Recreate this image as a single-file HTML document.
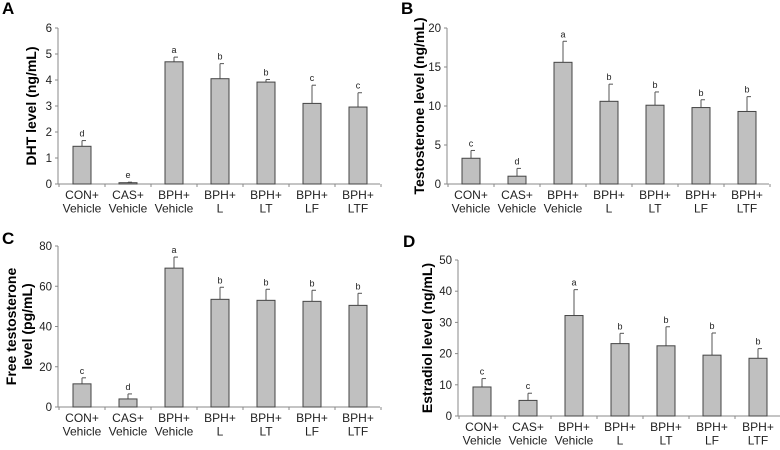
<!DOCTYPE html>
<html><head><meta charset="utf-8"><style>
body{margin:0;background:#fff;font-family:"Liberation Sans",Arial,sans-serif}
svg text{font-family:"Liberation Sans",Arial,sans-serif}
</style></head><body>
<svg id="c" width="780" height="445"></svg>
<script>
const categories=[["CON+","Vehicle"],["CAS+","Vehicle"],["BPH+","Vehicle"],["BPH+","L"],["BPH+","LT"],["BPH+","LF"],["BPH+","LTF"]];
const dhtValues=[1.45,0.05,4.7,4.05,3.92,3.1,2.96];
const dhtErrors=[0.22,0.02,0.18,0.58,0.1,0.7,0.55];
const dhtLetters=["d","e","a","b","b","c","c"];
const testoValues=[3.3,1.0,15.6,10.6,10.1,9.8,9.3];
const testoErrors=[1.0,1.0,2.7,2.2,1.7,1.0,1.9];
const testoLetters=["c","d","a","b","b","b","b"];
const freeValues=[11.5,4.0,69,53.5,53,52.5,50.5];
const freeErrors=[3.0,2.5,5.5,6.0,5.5,5.5,6.0];
const freeLetters=["c","d","a","b","b","b","b"];
const e2Values=[9.3,5.0,32.2,23.2,22.5,19.5,18.5];
const e2Errors=[2.7,2.3,8.3,3.3,6.1,7.1,3.1];
const e2Letters=["c","c","a","b","b","b","b"];
const dhtTicks=[0,1,2,3,4,5,6];
const testoTicks=[0,5,10,15,20];
const freeTicks=[0,20,40,60,80];
const e2Ticks=[0,10,20,30,40,50];
const NS="http://www.w3.org/2000/svg";
const svg=document.getElementById('c');
function mk(t,a,p){const e=document.createElementNS(NS,t);for(const k in a)e.setAttribute(k,a[k]);(p||svg).appendChild(e);return e;}
function panel(o){
  const g=mk('g',{});
  
  
  const ymax=o.ticks[o.ticks.length-1];
  const ys=v=>o.y0-(v/ymax)*(o.y0-o.ytop);
  const xs=i=>o.x0+24+i*46;
  const lt=mk('text',{x:o.lx,y:o.ly,'font-size':17,'font-weight':'bold'},g);lt.textContent=o.letter;
  
  
  const ax=mk('line',{x1:o.x0,y1:o.ytop,x2:o.x0,y2:o.y0,stroke:'#888'},g);
  
  
  const bx=mk('line',{x1:o.x0,y1:o.y0,x2:o.x0+322,y2:o.y0,stroke:'#888'},g);
  
  
  o.ticks.forEach(t=>{
    mk('line',{x1:o.x0-3,x2:o.x0,y1:ys(t),y2:ys(t),stroke:'#888'},g);
    const tx=mk('text',{x:o.x0-6,y:ys(t)+4,'font-size':11.5,'text-anchor':'end',fill:'#222'},g);tx.textContent=t;
    
    
  });
  for(let i=0;i<=7;i++)mk('line',{x1:o.x0+1+i*46,x2:o.x0+1+i*46,y1:o.y0,y2:o.y0+3,stroke:'#888'},g);
  categories.forEach((c,i)=>{
    const cx=xs(i),v=o.values[i],e=o.errors[i];
    const ytop=ys(v+e);
    mk('line',{x1:cx,x2:cx,y1:ys(v),y2:ytop,stroke:'#555'},g);
    mk('line',{x1:cx,x2:cx+4,y1:ytop,y2:ytop,stroke:'#555'},g);
    const r=mk('rect',{x:cx-9,y:ys(v),width:18,height:o.y0-ys(v),fill:'#c0c0c0',stroke:'#444','stroke-width':1},g);
    
    
    const l=mk('text',{x:cx,y:ytop-4,'font-size':9,'text-anchor':'middle',fill:'#222'},g);l.textContent=o.letters[i];
    
    
    c.forEach((s,k)=>{const t=mk('text',{x:cx,y:o.y0+15+k*13.5,'font-size':12,'text-anchor':'middle',fill:'#222'},g);t.textContent=s;
      
      });
  });
  const my=(o.y0+o.ytop)/2;
  o.title.forEach((s,k)=>{
    const t=mk('text',{x:0,y:0,'font-size':14,'font-weight':'bold','text-anchor':'middle',transform:`translate(${o.tx+k*16},${my}) rotate(-90)`},g);t.textContent=s;
    
    
  });
}
panel({name:'panel-a-dht',letter:'A',lx:2,ly:14,x0:58,y0:184,ytop:28,ticks:dhtTicks,values:dhtValues,errors:dhtErrors,letters:dhtLetters,title:['DHT level (ng/mL)'],tx:36});
panel({name:'panel-b-testosterone',letter:'B',lx:401,ly:14,x0:447,y0:184,ytop:28,ticks:testoTicks,values:testoValues,errors:testoErrors,letters:testoLetters,title:['Testosterone level (ng/mL)'],tx:424});
panel({name:'panel-c-free-testosterone',letter:'C',lx:2,ly:244,x0:58,y0:407,ytop:246,ticks:freeTicks,values:freeValues,errors:freeErrors,letters:freeLetters,title:['Free testosterone','level (pg/mL)'],tx:16});
panel({name:'panel-d-estradiol',letter:'D',lx:403,ly:247,x0:458,y0:416,ytop:260,ticks:e2Ticks,values:e2Values,errors:e2Errors,letters:e2Letters,title:['Estradiol level (ng/mL)'],tx:432});
</script>
</body></html>
